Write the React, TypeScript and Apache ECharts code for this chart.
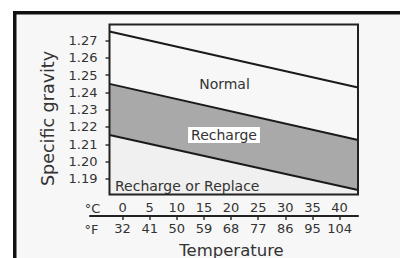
import React, { useEffect, useRef } from "react";
import * as echarts from "echarts";

// Temperature (°C) at the left and right edges of the plot
const tempEnds = [-2.4, 43.4];
// Specific gravity boundary lines (values at the two edges)
const normalLine = [1.2752, 1.2428];
const rechargeUpper = [1.2449, 1.2125];
const rechargeLower = [1.2154, 1.1836];

const gravityTicks = [1.19, 1.2, 1.21, 1.22, 1.23, 1.24, 1.25, 1.26, 1.27];
const celsiusTicks = [0, 5, 10, 15, 20, 25, 30, 35, 40];
const fahrenheitLabels = ["32", "41", "50", "59", "68", "77", "86", "95", "104"];

const FONT = "DejaVu Sans";
const TXT = "#333";

export default function App() {
  const ref = useRef<HTMLDivElement>(null);
  useEffect(() => {
    if (!ref.current) return;
    const chart = echarts.init(ref.current, undefined, { renderer: "svg" });
    const pts = (vals: number[]) => tempEnds.map((t, i) => [t, vals[i]]);
    chart.setOption({
      animation: false,
      textStyle: { fontFamily: FONT },
      grid: [
        { left: 109.5, right: 42, top: 24.5, bottom: 63.5 },
        { left: 90, right: 42, top: 216, height: 1 },
      ],
      xAxis: [
        {
          gridIndex: 0,
          type: "value",
          min: tempEnds[0],
          max: tempEnds[1],
          axisLine: { show: false, onZero: false },
          axisTick: { show: false },
          axisLabel: { show: false },
          splitLine: { show: false },
        },
        {
          gridIndex: 1,
          type: "value",
          position: "top",
          min: -6,
          max: 43.4,
          axisLine: { show: true, onZero: false, lineStyle: { color: "#222", width: 2 } },
          axisTick: { show: false },
          axisLabel: {
            customValues: celsiusTicks,
            color: TXT,
            fontSize: 13,
            fontFamily: FONT,
            margin: 2,
          },
          splitLine: { show: false },
        },
        {
          gridIndex: 1,
          type: "value",
          position: "bottom",
          min: -6,
          max: 43.4,
          axisLine: { show: false, onZero: false },
          axisTick: {
            show: true,
            customValues: celsiusTicks,
            length: 3,
            lineStyle: { color: "#333", width: 1.5 },
          },
          axisLabel: {
            customValues: celsiusTicks,
            color: TXT,
            fontSize: 13,
            fontFamily: FONT,
            margin: 5,
            formatter: (v: number) => fahrenheitLabels[celsiusTicks.indexOf(Math.round(v))] ?? "",
          },
          splitLine: { show: false },
        },
      ],
      yAxis: [
        {
          gridIndex: 0,
          type: "value",
          min: 1.181,
          max: 1.2792,
          axisLine: { show: false, onZero: false },
          axisTick: {
            show: true,
            customValues: gravityTicks,
            length: 4,
            lineStyle: { color: "#333", width: 1.5 },
          },
          axisLabel: {
            customValues: gravityTicks,
            color: TXT,
            fontSize: 13,
            fontFamily: FONT,
            margin: 12,
            formatter: (v: number) => v.toFixed(2),
          },
          splitLine: { show: false },
        },
        {
          gridIndex: 1,
          type: "value",
          show: false,
          axisLine: { onZero: false },
        },
      ],
      graphic: [
        {
          type: "rect",
          z: -10,
          shape: { x: 14.75, y: 12.8, width: 420, height: 300 },
          style: { fill: "#f7f7f7", stroke: "#111", lineWidth: 3.5 },
        },
        {
          type: "rect",
          z: 100,
          shape: { x: 109.5, y: 24.5, width: 248.5, height: 170 },
          style: { fill: "none", stroke: "#222", lineWidth: 2 },
        },
        {
          type: "text",
          z: 101,
          x: 224.5,
          y: 84,
          style: { text: "Normal", fill: TXT, font: `14px "${FONT}"`, align: "center", verticalAlign: "middle" },
        },
        {
          type: "text",
          z: 101,
          x: 224,
          y: 135,
          style: {
            text: "Recharge",
            fill: TXT,
            font: `14px "${FONT}"`,
            align: "center",
            verticalAlign: "middle",
            backgroundColor: "#fff",
            padding: [1, 3],
          },
        },
        {
          type: "text",
          z: 101,
          x: 115,
          y: 186,
          style: { text: "Recharge or Replace", fill: TXT, font: `14px "${FONT}"`, align: "left", verticalAlign: "middle" },
        },
        {
          type: "text",
          z: 101,
          x: 92.5,
          y: 208,
          style: { text: "°C", fill: TXT, font: `13px "${FONT}"`, align: "center", verticalAlign: "middle" },
        },
        {
          type: "text",
          z: 101,
          x: 91.5,
          y: 229,
          style: { text: "°F", fill: TXT, font: `13px "${FONT}"`, align: "center", verticalAlign: "middle" },
        },
        {
          type: "text",
          z: 101,
          x: 231.5,
          y: 250,
          style: { text: "Temperature", fill: TXT, font: `16.5px "${FONT}"`, align: "center", verticalAlign: "middle" },
        },
        {
          type: "text",
          z: 101,
          x: 48,
          y: 118.5,
          rotation: Math.PI / 2,
          style: { text: "Specific gravity", fill: TXT, font: `17.5px "${FONT}"`, align: "center", verticalAlign: "middle" },
        },
      ],
      series: [
        {
          type: "line",
          name: "Recharge upper",
          xAxisIndex: 0,
          yAxisIndex: 0,
          data: pts(rechargeUpper),
          symbol: "none",
          lineStyle: { color: "#1a1a1a", width: 2 },
          areaStyle: { color: "#a9a9a9", opacity: 1, origin: "start" },
          z: 2,
        },
        {
          type: "line",
          name: "Recharge lower",
          xAxisIndex: 0,
          yAxisIndex: 0,
          data: pts(rechargeLower),
          symbol: "none",
          lineStyle: { color: "#1a1a1a", width: 2 },
          areaStyle: { color: "#f0f0f0", opacity: 1, origin: "start" },
          z: 3,
        },
        {
          type: "line",
          name: "Normal",
          xAxisIndex: 0,
          yAxisIndex: 0,
          data: pts(normalLine),
          symbol: "none",
          lineStyle: { color: "#1a1a1a", width: 2 },
          z: 3,
        },
      ],
    });
    return () => chart.dispose();
  }, []);
  return (
    <div
      ref={ref}
      style={{ position: "fixed", left: 0, top: 0, width: 400, height: 258, background: "#fff" }}
    />
  );
}
